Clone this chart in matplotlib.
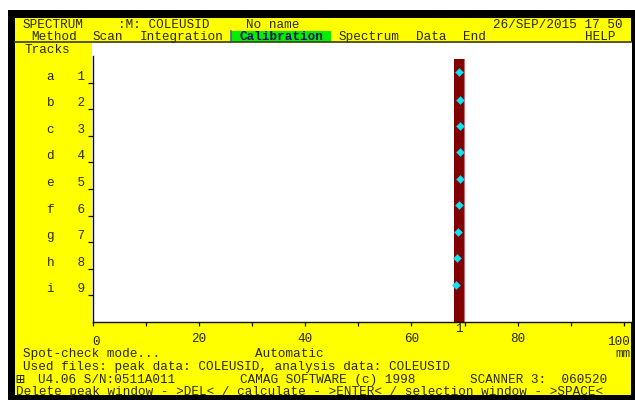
import matplotlib
matplotlib.use("Agg")
import matplotlib.pyplot as plt
from matplotlib.patches import Rectangle
from matplotlib.lines import Line2D
import matplotlib.transforms as mtransforms

tracks = [1, 2, 3, 4, 5, 6, 7, 8, 9]
track_letters = ["a", "b", "c", "d", "e", "f", "g", "h", "i"]
spot_x = [69.0, 69.2, 69.2, 69.2, 69.2, 69.0, 68.8, 68.6, 68.4]      # mm
spot_y = [0.61, 1.64, 2.62, 3.62, 4.62, 5.60, 6.61, 7.60, 8.60]      # track units
peak_window = [68.0, 69.95]   # mm, start / end of the selected peak window
peak_top = 0.1
peak_label = "1"
x_ticks = [0, 10, 20, 30, 40, 50, 60, 70, 80, 90, 100]
x_ticklabels = ["0", "", "20", "", "40", "", "60", "", "80", "", "100"]

W, H = 635, 400
FONT = ["Liberation Mono", "DejaVu Sans Mono", "DejaVu Sans"]
TXT = "#2a2a08"
FS = 9.1

fig = plt.figure(figsize=(W / 100, H / 100), dpi=100)
fig.patch.set_facecolor("white")


def px(x, y):
    return x / W, 1 - y / H


def rect(x0, y0, x1, y1, color, z=-2):
    fig.patches.append(Rectangle(px(x0, y1), (x1 - x0) / W, (y1 - y0) / H,
                                 transform=fig.transFigure, facecolor=color,
                                 edgecolor="none", zorder=z))


def txt(x, y, s, **kw):
    kw.setdefault("color", TXT)
    kw.setdefault("fontsize", FS)
    fig.text(*px(x, y), s, family=FONT, va="center", ha="left", **kw)


# screen frame
rect(8, 10, 635, 400, "black")
rect(15, 18, 631, 395, "#ffff00")
rect(92, 42, 632, 322, "white")

# header
txt(23, 24.5, "SPECTRUM")
txt(118, 24.5, ":M: COLEUSID")
txt(246.5, 24.5, "No name")
txt(493, 24.5, "26/SEP/2015 17 50")
txt(31, 37, "Method")
txt(92.5, 37, "Scan")
txt(140, 37, "Integration")
rect(231.5, 31, 331, 42, "#00ee00", z=-1)
fig.add_artist(Line2D([px(231.5, 0)[0]] * 2, [px(0, 31)[1], px(0, 42)[1]],
                      color="#5060b0", lw=1.2))
txt(239.5, 37, "Calibration", color="#101060", fontweight="bold")
txt(339, 37, "Spectrum")
txt(416, 37, "Data")
txt(462.5, 37, "End")
txt(585, 37, "HELP")
fig.add_artist(Line2D([15 / W, 631 / W], [1 - 42 / H] * 2, color="#4a4a18", lw=1.3))
txt(24, 50, "Tracks")

# footer
txt(23, 354, "Spot-check mode...")
txt(255, 354, "Automatic")
txt(615, 354, "mm")
txt(23, 367, "Used files: peak data: COLEUSID, analysis data: COLEUSID")
txt(15, 380, "\u229e", fontsize=10.5)
txt(38, 380, "U4.06 S/N:0511A011")
txt(240, 380, "CAMAG SOFTWARE (c) 1998")
txt(470, 380, "SCANNER 3:  060520")
txt(16, 391.5, "Delete peak window - >DEL< / calculate - >ENTER< / selection window - >SPACE<")

# plot area
ax = fig.add_axes([92.5 / W, 1 - 322 / H, (632 - 92.5) / W, (322 - 56) / H])
ax.set_zorder(1)
ax.patch.set_visible(False)
ax.set_xlim(0, 101.5)
ax.set_ylim(10, 0)
for s in ["top", "right"]:
    ax.spines[s].set_visible(False)
for s in ["left", "bottom"]:
    ax.spines[s].set_color("#101010")
    ax.spines[s].set_linewidth(1.0)

ax.bar((peak_window[0] + peak_window[1]) / 2, 10 - peak_top, bottom=peak_top,
       width=peak_window[1] - peak_window[0], color="#800000",
       edgecolor="none", zorder=2)
ax.plot([peak_window[1]] * 2, [peak_top, 10], color="#c07070", lw=0.8, zorder=2)
ax.plot(spot_x, spot_y, linestyle="none", marker="D", markersize=4,
        color="#10e4f0", markeredgecolor="#10c8e0", markeredgewidth=0.4, zorder=3)

ax.set_xticks(x_ticks)
ax.set_xticklabels(x_ticklabels, family=FONT, fontsize=FS, color=TXT)
ax.tick_params(axis="x", direction="out", length=3, width=0.9, pad=5, color="#101010")
ax.set_yticks(tracks)
ax.set_yticklabels([f"{l}   {t}" for l, t in zip(track_letters, tracks)],
                   family=FONT, fontsize=FS, color=TXT)
ax.tick_params(axis="y", direction="out", length=3.6, width=0.9, pad=2, color="#101010")
for lab in ax.get_yticklabels():
    lab.set_va("bottom")
xl = ax.get_xticklabels()
xl[0].set_ha("left")
off0 = mtransforms.ScaledTranslation(0, -3 / 100, fig.dpi_scale_trans)
off1 = mtransforms.ScaledTranslation(-5 / 100, -3 / 100, fig.dpi_scale_trans)
xl[0].set_transform(xl[0].get_transform() + off0)
xl[-1].set_transform(xl[-1].get_transform() + off1)

trans = mtransforms.blended_transform_factory(ax.transData, ax.transAxes)
ax.text((peak_window[0] + peak_window[1]) / 2, -0.026, peak_label, transform=trans,
        ha="center", va="center", family=FONT, fontsize=FS, color=TXT)

fig.savefig("out.png", dpi=100, facecolor="white")
